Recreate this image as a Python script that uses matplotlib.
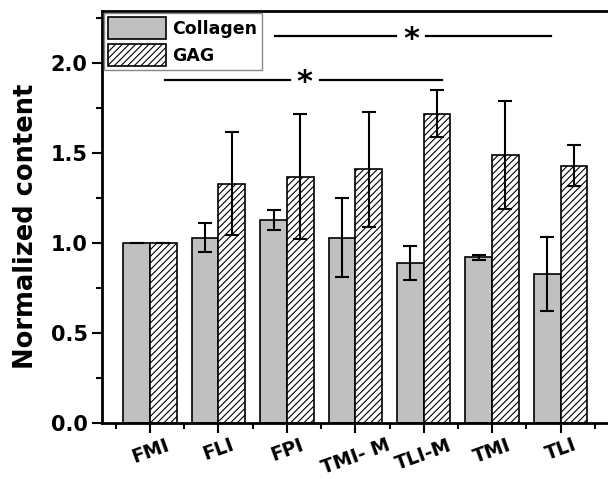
import numpy as np
import matplotlib.pyplot as plt
from matplotlib.ticker import MultipleLocator

plt.rcParams['font.family'] = ['DejaVu Sans']
plt.rcParams['font.weight'] = 'bold'
plt.rcParams['hatch.linewidth'] = 0.8

groups = ["FMI", "FLI", "FPI", "TMI- M", "TLI-M", "TMI", "TLI"]
collagen = [1.00, 1.03, 1.13, 1.03, 0.89, 0.92, 0.83]
collagen_err = [0.0, 0.08, 0.055, 0.22, 0.095, 0.015, 0.205]
gag = [1.00, 1.33, 1.37, 1.41, 1.72, 1.49, 1.43]
gag_err = [0.0, 0.285, 0.345, 0.32, 0.13, 0.30, 0.113]

x = np.arange(len(groups))
w = 0.39

fig = plt.figure(figsize=(6.08, 4.79), dpi=100)
ax = fig.add_axes([0.168, 0.117, 0.835, 0.860])

ax.bar(x - w / 2, collagen, w, color="#c0c0c0", edgecolor="black", linewidth=1.2,
       label="Collagen", zorder=2)
ax.bar(x + w / 2, gag, w, color="white", edgecolor="black", linewidth=1.2,
       hatch="/////", label="GAG", zorder=2)
ax.errorbar(x - w / 2, collagen, yerr=collagen_err, fmt="none", ecolor="black",
            elinewidth=1.5, capsize=5, capthick=1.5, zorder=3)
ax.errorbar(x + w / 2, gag, yerr=gag_err, fmt="none", ecolor="black",
            elinewidth=1.5, capsize=5, capthick=1.5, zorder=3)

# significance lines
ax.plot([0.22, 2.04], [1.906, 1.906], color="black", lw=1.6)
ax.plot([2.48, 4.26], [1.906, 1.906], color="black", lw=1.6)
ax.text(2.26, 1.89, "*", ha="center", va="center", fontsize=22, fontweight="bold")
ax.plot([1.82, 3.6], [2.15, 2.15], color="black", lw=1.6)
ax.plot([4.04, 5.86], [2.15, 2.15], color="black", lw=1.6)
ax.text(3.82, 2.134, "*", ha="center", va="center", fontsize=22, fontweight="bold")

ax.set_xlim(-0.7, 6.72)
ax.set_ylim(0, 2.29)
ax.set_xticks(x)
ax.set_xticklabels(groups, rotation=20, fontsize=13.5, fontweight="bold")
ax.set_xticks(np.arange(-0.5, 7.0, 1.0), minor=True)
ax.yaxis.set_minor_locator(MultipleLocator(0.25))
ax.set_yticks([0, 0.5, 1.0, 1.5, 2.0])
ax.set_yticklabels(["0.0", "0.5", "1.0", "1.5", "2.0"], fontsize=15, fontweight="bold")
ax.set_ylabel("Normalized content", fontsize=18.5, fontweight="bold")
ax.yaxis.set_label_coords(-0.125, 0.477)

ax.tick_params(axis="both", which="major", direction="out", length=7, width=1.5)
ax.tick_params(axis="both", which="minor", direction="out", length=4, width=1.5)
ax.tick_params(axis="x", which="major", pad=2)
for s in ax.spines.values():
    s.set_linewidth(2)

leg = ax.legend(loc="upper left", fontsize=12.5, handlelength=3.3, handleheight=1.6,
                borderaxespad=0.1, borderpad=0.25, labelspacing=0.25,
                handletextpad=0.4, fancybox=False, framealpha=1)
leg.get_frame().set_edgecolor("#888888")
leg.get_frame().set_linewidth(1)

fig.savefig("out.png", dpi=100)
